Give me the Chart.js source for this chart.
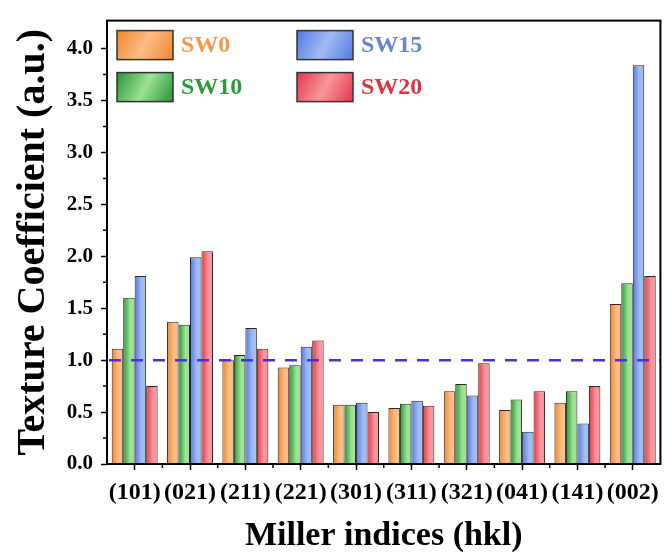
<!DOCTYPE html>
<html>
<head>
<meta charset="utf-8">
<script src="https://cdn.jsdelivr.net/npm/chart.js@4.4.1/dist/chart.umd.min.js"></script>
<style>
  html, body { margin: 0; padding: 0; background: #ffffff; }
  #wrap { width: 667px; height: 554px; position: relative; }
</style>
</head>
<body>
<div id="wrap"><canvas id="tc"></canvas></div>
<script>
// Miller planes and texture coefficients for each sample
const planes = ['(101)', '(021)', '(211)', '(221)', '(301)', '(311)', '(321)', '(041)', '(141)', '(002)'];
const sw0  = [1.11, 1.37, 1.00, 0.93, 0.57, 0.54, 0.70, 0.52, 0.59, 1.54];
const sw10 = [1.60, 1.34, 1.05, 0.95, 0.57, 0.58, 0.77, 0.62, 0.70, 1.74];
const sw15 = [1.81, 1.99, 1.31, 1.13, 0.59, 0.61, 0.66, 0.31, 0.39, 3.84];
const sw20 = [0.75, 2.05, 1.11, 1.19, 0.50, 0.56, 0.97, 0.70, 0.75, 1.81];
const yTicks = [0.0, 0.5, 1.0, 1.5, 2.0, 2.5, 3.0, 3.5, 4.0];
const refLevel = 1.0;

const SERIF = "'Liberation Serif', 'Times New Roman', serif";
const CAT_PCT = 0.83;

// [dark edge, light edge, legend text colour]
const palette = {
  SW0:  ['#f0862e', '#fbbd86', '#f49a46'],
  SW10: ['#2a9436', '#9be292', '#2e9a3a'],
  SW15: ['#5379e2', '#a1bbf3', '#6a84d4'],
  SW20: ['#e4384a', '#f8959d', '#e2323f']
};

function barFill(name, dsIndex) {
  const [c0, c1] = palette[name];
  return (ctx) => {
    const chart = ctx.chart;
    const xs = chart.scales.x;
    if (!chart.chartArea || !xs || ctx.type !== 'data') return c0;
    const cat = xs.width / planes.length;
    const group = cat * CAT_PCT;
    const bw = group / 4;
    const left = xs.getPixelForValue(ctx.dataIndex) - group / 2 + dsIndex * bw;
    const g = chart.ctx.createLinearGradient(left, 0, left + bw, 0);
    g.addColorStop(0, c0);
    g.addColorStop(0.6, c1);
    g.addColorStop(1, c1);
    return g;
  };
}

const series = [['SW0', sw0], ['SW10', sw10], ['SW15', sw15], ['SW20', sw20]];

// Reference line, plot frame and minor ticks
const framePlugin = {
  id: 'frame',
  afterDatasetsDraw(chart) {
    const { ctx, chartArea: a, scales: { x, y } } = chart;
    ctx.save();
    const yl = y.getPixelForValue(refLevel);
    ctx.strokeStyle = '#4632d8';
    ctx.lineWidth = 2.5;
    ctx.setLineDash([12, 10]);
    ctx.beginPath();
    ctx.moveTo(a.left + 2, yl);
    ctx.lineTo(a.right, yl);
    ctx.stroke();
    ctx.setLineDash([]);

    ctx.strokeStyle = '#000';
    ctx.lineWidth = 2;
    ctx.strokeRect(a.left, a.top, a.right - a.left, a.bottom - a.top);

    // minor ticks
    ctx.lineWidth = 1.5;
    ctx.beginPath();
    const cat = x.width / planes.length;
    for (let i = 1; i < planes.length; i++) {
      const px = a.left + i * cat;
      ctx.moveTo(px, a.bottom);
      ctx.lineTo(px, a.bottom + 4);
    }
    for (let i = 0; i < yTicks.length - 1; i++) {
      const py = y.getPixelForValue((yTicks[i] + yTicks[i + 1]) / 2);
      ctx.moveTo(a.left, py);
      ctx.lineTo(a.left - 4, py);
    }
    ctx.stroke();
    ctx.restore();
  }
};

// Two-column legend inside the plot area
const legendPlugin = {
  id: 'boxLegend',
  afterDraw(chart) {
    const { ctx, chartArea: a } = chart;
    const order = [0, 2, 1, 3];
    ctx.save();
    ctx.font = 'bold 24px ' + SERIF;
    ctx.textBaseline = 'middle';
    ctx.textAlign = 'left';
    order.forEach((di, k) => {
      const ds = chart.data.datasets[di];
      const col = k % 2, row = Math.floor(k / 2);
      const bx = a.left + 10 + col * 180;
      const by = a.top + 10 + row * 42;
      const bw = 56, bh = 29;
      const [c0, c1, tc] = palette[ds.label];
      const g = ctx.createLinearGradient(bx, by, bx + bw, by + bh);
      g.addColorStop(0, c0);
      g.addColorStop(0.5, c1);
      g.addColorStop(1, c0);
      ctx.fillStyle = g;
      ctx.fillRect(bx, by, bw, bh);
      ctx.strokeStyle = '#333';
      ctx.lineWidth = 1.5;
      ctx.strokeRect(bx, by, bw, bh);
      ctx.fillStyle = tc;
      ctx.fillText(ds.label, bx + bw + 8, by + bh / 2 + 1);
    });
    ctx.restore();
  }
};

new Chart(document.getElementById('tc'), {
  type: 'bar',
  data: {
    labels: planes,
    datasets: series.map(([name, vals], i) => ({
      label: name,
      data: vals,
      backgroundColor: barFill(name, i),
      borderColor: '#2e2620',
      borderWidth: 1,
      categoryPercentage: CAT_PCT,
      barPercentage: 1.0
    }))
  },
  options: {
    responsive: true,
    maintainAspectRatio: false,
    animation: false,
    devicePixelRatio: 1,
    layout: { padding: { top: 13, right: 5, left: 0, bottom: 0 } },
    plugins: { legend: { display: false }, tooltip: { enabled: false } },
    scales: {
      x: {
        afterFit: (s) => { s.height = 90; },
        grid: { display: true, drawOnChartArea: false, offset: false, tickLength: 6, tickColor: '#000', tickWidth: 1.5 },
        border: { display: false },
        ticks: { color: '#000', padding: 8, maxRotation: 0, autoSkip: false, font: { family: SERIF, weight: 'bold', size: 24 } },
        title: {
          display: true, text: 'Miller indices (hkl)', color: '#000',
          font: { family: SERIF, weight: 'bold', size: 34, lineHeight: 1.0 },
          padding: { top: 0, bottom: 1 }
        }
      },
      y: {
        min: 0, max: 4.27,
        afterFit: (s) => { s.width = 107; },
        afterBuildTicks: (s) => { s.ticks = yTicks.map(v => ({ value: v })); },
        grid: { display: true, drawOnChartArea: false, tickLength: 6, tickColor: '#000', tickWidth: 1.5 },
        border: { display: false },
        ticks: {
          color: '#000', padding: 8,
          font: { family: SERIF, weight: 'bold', size: 21 },
          callback: (v) => Number(v).toFixed(1)
        },
        title: {
          display: true, text: 'Texture Coefficient (a.u.)', color: '#000',
          font: { family: SERIF, weight: 'bold', size: 40, lineHeight: 1.2 },
          padding: { top: 10, bottom: 0 }
        }
      }
    }
  },
  plugins: [framePlugin, legendPlugin]
});
</script>
</body>
</html>
